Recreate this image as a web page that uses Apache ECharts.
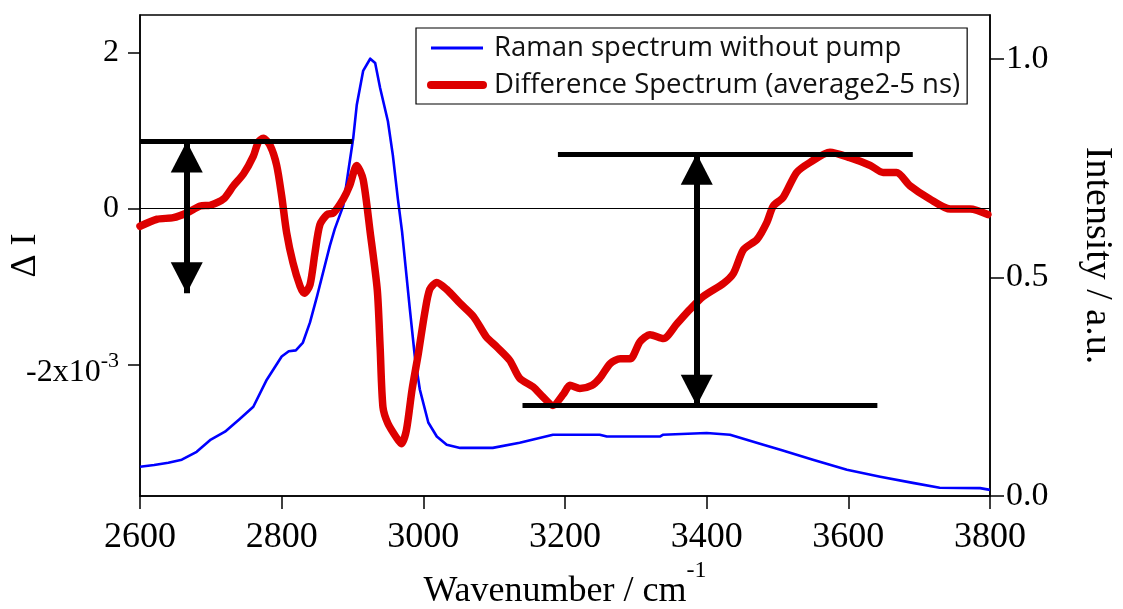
<!DOCTYPE html>
<html>
<head>
<meta charset="utf-8">
<script src="https://cdn.jsdelivr.net/npm/echarts@6/dist/echarts.min.js"></script>
<style>
html,body{margin:0;padding:0;background:#fff;}
#chart{width:1123px;height:609px;}
</style>
</head>
<body>
<div id="chart"></div>
<script>
// Difference spectrum (ΔI, units of 1e-3)
const redWavenumber = [2600,2624,2647,2666,2685,2699,2718,2732,2746,2760,2767,2774,2784,2793,2800,2807,2816,2826,2832,2840,2847,2854,2864,2873,2887,2896,2906,2915,2925,2935,2939,2943,2950,2962,2969,2976,2984,2993,3002,3009,3019,3033,3052,3071,3089,3104,3122,3136,3155,3169,3183,3198,3207,3221,3238,3249,3264,3278,3292,3306,3320,3339,3358,3376,3395,3424,3438,3452,3471,3485,3494,3508,3527,3546,3574,3602,3631,3649,3668,3687,3715,3744,3772,3797];
const redDeltaI = [-0.23,-0.14,-0.12,-0.06,0.03,0.04,0.12,0.29,0.44,0.67,0.85,0.90,0.80,0.55,0.16,-0.31,-0.70,-1.00,-1.09,-0.98,-0.57,-0.21,-0.08,-0.06,0.12,0.29,0.55,0.37,-0.31,-1.05,-1.78,-2.55,-2.76,-2.94,-3.02,-2.85,-2.33,-1.86,-1.34,-1.04,-0.95,-1.04,-1.22,-1.39,-1.65,-1.78,-1.95,-2.18,-2.29,-2.42,-2.53,-2.38,-2.27,-2.31,-2.27,-2.18,-1.99,-1.93,-1.93,-1.71,-1.62,-1.67,-1.48,-1.30,-1.13,-0.96,-0.83,-0.53,-0.40,-0.18,0.03,0.14,0.46,0.59,0.72,0.65,0.55,0.46,0.46,0.29,0.12,-0.01,-0.01,-0.08];
// Raman spectrum without pump (intensity, a.u.)
const blueWavenumber = [2600,2620,2640,2659,2680,2700,2720,2740,2760,2779,2800,2810,2820,2830,2840,2850,2868,2875,2887,2894,2901,2906,2915,2925,2932,2939,2950,2957,2964,2970,2981,2988,2995,3007,3019,3033,3052,3098,3136,3183,3249,3259,3334,3338,3400,3433,3480,3504,3550,3598,3645,3691,3729,3786,3800];
const blueIntensity = [0.067,0.071,0.076,0.083,0.101,0.129,0.147,0.175,0.204,0.266,0.319,0.331,0.333,0.351,0.397,0.457,0.572,0.611,0.664,0.742,0.818,0.894,0.972,1.0,0.99,0.933,0.857,0.779,0.68,0.604,0.427,0.319,0.244,0.168,0.136,0.117,0.11,0.11,0.122,0.14,0.14,0.136,0.136,0.14,0.144,0.14,0.117,0.106,0.083,0.06,0.044,0.03,0.019,0.018,0.014];
// Annotation bars: [x start, x end, ΔI level]
const barLevels = [[2600,2900,0.857],[2598,2900,-1.088],[3190,3691,0.699],[3140,3641,-2.532]];
// Double arrows: [x, ΔI top, ΔI bottom]
const arrowSpans = [[2666,0.857,-1.088],[3386,0.699,-2.532]];
// Tick labels
const xTicks = [2600,2800,3000,3200,3400,3600,3800];
const leftTicks = [-2,0,2];
const rightTicks = [0,0.5,1.0];
const seriesNames = ['Raman spectrum without pump','Difference Spectrum (average2-5 ns)'];

const serif = 'Liberation Serif';
const chart = echarts.init(document.getElementById('chart'), null, {renderer:'canvas'});
const redData = redWavenumber.map((x,i)=>[x, redDeltaI[i]]);
const blueData = blueWavenumber.map((x,i)=>[x, blueIntensity[i]]);
const axisLineStyle = {color:'#000', width:1.5};

const option = {
  animation:false,
  backgroundColor:'#fff',
  grid:{left:140, right:133, top:15, bottom:113, show:true, borderColor:'#000', borderWidth:1.5,
        backgroundColor:'transparent', containLabel:false, outerBoundsMode:'none'},
  legend:{
    orient:'vertical', left:416, top:28,
    data:[{name:seriesNames[0], lineStyle:{width:3}, itemStyle:{opacity:0}},
          {name:seriesNames[1], lineStyle:{width:8}, itemStyle:{opacity:0}}],
    itemWidth:52, itemHeight:14, itemGap:7,
    padding:[5,7,4,11],
    borderColor:'#000', borderWidth:1.2,
    textStyle:{fontFamily:'Open Sans', fontSize:27.5, color:'#111', lineHeight:30, padding:[0,0,0,6]},
    selectedMode:false
  },
  xAxis:{
    type:'value', min:xTicks[0], max:xTicks[xTicks.length-1], interval:200,
    axisLine:{show:true, onZero:false, lineStyle:axisLineStyle},
    axisTick:{show:true, length:13, lineStyle:axisLineStyle},
    axisLabel:{fontFamily:serif, fontSize:36, color:'#000', margin:24,
      formatter:function(v){ return String(v); }},
    splitLine:{show:false},
    name:'{a|Wavenumber / cm}{s|-1}', nameLocation:'middle', nameGap:71, nameMoveOverlap:false,
    nameTextStyle:{rich:{
      a:{fontFamily:serif, fontSize:36, color:'#000', lineHeight:36, padding:[14,0,0,0]},
      s:{fontFamily:serif, fontSize:24, color:'#000', lineHeight:24, padding:[0,0,28,0]}
    }}
  },
  yAxis:[{
    type:'value', min:-3.69, max:2.48, position:'left',
    axisLine:{show:true, onZero:false, lineStyle:axisLineStyle},
    axisTick:{show:true, length:12, customValues:leftTicks, lineStyle:axisLineStyle},
    axisLabel:{customValues:leftTicks, margin:21,
      formatter:function(v){ return v === -2 ? '{m|-2x10}{s|-3}' : '{n|' + v + '}'; },
      rich:{
        n:{fontFamily:serif, fontSize:32, color:'#000'},
        m:{fontFamily:serif, fontSize:32, color:'#000', lineHeight:32, padding:[16,0,0,0]},
        s:{fontFamily:serif, fontSize:22, color:'#000', lineHeight:22, padding:[0,0,6,0]}
      }},
    splitLine:{show:false},
    name:'Δ I', nameLocation:'middle', nameGap:96, nameRotate:90, nameMoveOverlap:false,
    nameTextStyle:{fontFamily:serif, fontSize:36, color:'#000'}
  },{
    type:'value', min:0, max:1.1, position:'right',
    axisLine:{show:true, onZero:false, lineStyle:axisLineStyle},
    axisTick:{show:true, length:14, customValues:rightTicks, lineStyle:axisLineStyle},
    axisLabel:{customValues:rightTicks, margin:16, fontFamily:serif, fontSize:34, color:'#000',
      formatter:function(v){ return v.toFixed(1); }},
    splitLine:{show:false},
    name:'Intensity / a.u.', nameLocation:'middle', nameGap:88, nameRotate:-90, nameMoveOverlap:false,
    nameTextStyle:{fontFamily:serif, fontSize:38, color:'#000'}
  }],
  series:[
    {
      name:'bars', type:'line', yAxisIndex:0, data:[], z:1, silent:true,
      markLine:{silent:true, symbol:['none','none'], label:{show:false}, animation:false,
        data:[
          [{coord:[xTicks[0],0], lineStyle:{width:1.2,color:'#000',type:'solid'}},{coord:[xTicks[xTicks.length-1],0]}]
        ].concat(barLevels.map(b=>[{coord:[b[0],b[2]], lineStyle:{width:5,color:'#000',type:'solid'}},{coord:[b[1],b[2]]}]))
      }
    },
    {
      name:seriesNames[0], type:'line', yAxisIndex:1, data:blueData, z:2,
      showSymbol:false, symbol:'none', smooth:false,
      lineStyle:{color:'#0000ff', width:2.6, join:'round'}, itemStyle:{color:'#0000ff'}
    },
    {
      name:seriesNames[1], type:'line', yAxisIndex:0, data:redData, z:3,
      showSymbol:false, symbol:'none', smooth:0.25,
      lineStyle:{color:'#dd0000', width:7.5, join:'round', cap:'round'}, itemStyle:{color:'#dd0000'}
    },
    {
      name:'arrows', type:'line', yAxisIndex:0, data:[], z:4, silent:true,
      markLine:{silent:true, symbol:['none','none'], label:{show:false}, animation:false,
        data: arrowSpans.map(a=>[{coord:[a[0],a[1]], lineStyle:{width:6,color:'#000',type:'solid'}},{coord:[a[0],a[2]]}])
      },
      markPoint:{silent:true, label:{show:false}, animation:false,
        data: [].concat.apply([], arrowSpans.map(a=>[
          {coord:[a[0],a[1]], symbol:'triangle', symbolSize:[32,31], symbolOffset:[0,'50%'], itemStyle:{color:'#000'}},
          {coord:[a[0],a[2]], symbol:'triangle', symbolSize:[32,31], symbolRotate:180, symbolOffset:[0,'-50%'], itemStyle:{color:'#000'}}
        ]))
      }
    }
  ]
};
chart.setOption(option);
</script>
</body>
</html>
